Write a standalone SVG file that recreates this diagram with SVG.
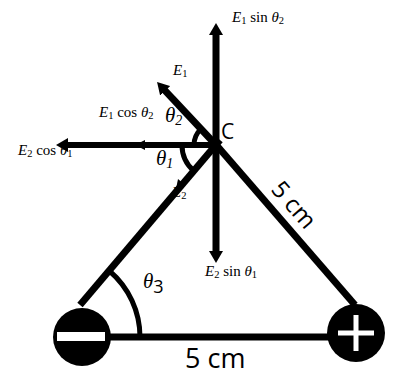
<svg xmlns="http://www.w3.org/2000/svg" width="396" height="376" viewBox="0 0 396 376">
<style>
.m{font-family:"Liberation Serif","DejaVu Serif",serif;font-size:15px;fill:#000}
.i{font-style:italic}
.s{font-size:10.5px}
.big{font-family:"Liberation Serif","DejaVu Serif",serif;font-style:italic;font-size:21px;fill:#000}
.lab{font-family:"Open Sans","Liberation Sans",sans-serif;fill:#000}
.ln{stroke:#000;fill:none}
</style>
<defs>
<marker id="ah" viewBox="0 0 12 14" refX="3" refY="7" markerWidth="12" markerHeight="14" markerUnits="userSpaceOnUse" orient="auto-start-reverse">
<path d="M0,0 L12,7 L0,14 z" fill="#000"/>
</marker>
</defs>
<g id="labels">
<text class="m" x="232" y="22"><tspan class="i">E</tspan><tspan class="s" dy="2">1</tspan><tspan dy="-2"> sin </tspan><tspan class="i">θ</tspan><tspan class="s" dy="2">2</tspan></text>
<text class="m" x="173" y="75"><tspan class="i">E</tspan><tspan class="s" dy="2">1</tspan></text>
<text class="m" x="99" y="117"><tspan class="i">E</tspan><tspan class="s" dy="2">1</tspan><tspan dy="-2"> cos </tspan><tspan class="i">θ</tspan><tspan class="s" dy="2">2</tspan></text>
<text class="m" x="18" y="155"><tspan class="i">E</tspan><tspan class="s" dy="2">2</tspan><tspan dy="-2"> cos </tspan><tspan class="i">θ</tspan><tspan class="s" dy="2">1</tspan></text>
<text class="m" x="172" y="197"><tspan class="i">E</tspan><tspan class="s" dy="2">2</tspan></text>
<text class="m" x="205" y="276"><tspan class="i">E</tspan><tspan class="s" dy="2">2</tspan><tspan dy="-2"> sin </tspan><tspan class="i">θ</tspan><tspan class="s" dy="2">1</tspan></text>
<text class="big" x="165" y="122">θ<tspan font-size="14" dy="3">2</tspan></text>
<text class="big" x="156" y="165">θ<tspan font-size="14" dy="3">1</tspan></text>
<text class="big" x="143" y="288" font-size="27">θ<tspan class="lab" font-style="normal" font-size="18" dy="5">3</tspan></text>
<text class="lab" x="221" y="139" font-size="21">C</text>
<text class="lab" x="185" y="368" font-size="27">5 cm</text>
<text class="lab" x="0" y="0" font-size="24" transform="translate(270,190) rotate(49)">5 cm</text>
</g>
<g id="connectors">
<line class="ln" x1="216" y1="32" x2="216" y2="254" stroke-width="7" marker-start="url(#ah)" marker-end="url(#ah)"/>
<line class="ln" x1="216" y1="145" x2="65" y2="145" stroke-width="6" marker-end="url(#ah)"/>
<polygon points="135,145 145,140 145,150" fill="#000"/>
<line class="ln" x1="216" y1="145" x2="163.2" y2="88.6" stroke-width="7" marker-end="url(#ah)"/>
<line class="ln" x1="220" y1="140" x2="80" y2="305" stroke-width="7"/>
<polygon points="176,189 178,179 185,185" fill="#000"/>
<line class="ln" x1="212" y1="140" x2="355" y2="305" stroke-width="7"/>
<line class="ln" x1="108" y1="337" x2="330" y2="337" stroke-width="7"/>
<path class="ln" d="M182,145 A34,34 0 0 0 194,171" stroke-width="5"/>
<path class="ln" d="M194,145 A22,22 0 0 1 201,129" stroke-width="5"/>
<path class="ln" d="M109.5,271 A87,87 0 0 1 140,337" stroke-width="5"/>
</g>
<g id="minus">
<circle cx="82" cy="337" r="29" fill="#000"/>
<rect x="57" y="332" width="48" height="9" fill="#fff"/>
</g>
<g id="plus">
<circle cx="356" cy="333" r="29" fill="#000"/>
<rect x="338" y="330.5" width="36" height="5" fill="#fff"/>
<rect x="353.5" y="315" width="5" height="36" fill="#fff"/>
</g>
</svg>
